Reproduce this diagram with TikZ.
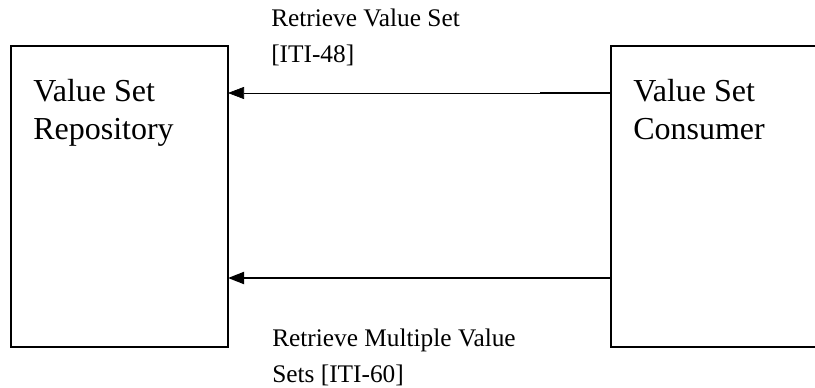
\documentclass[tikz,border=0pt]{standalone}
\usepackage{fontspec}
\setmainfont{Liberation Serif}
\usetikzlibrary{arrows.meta,positioning}

\begin{document}
\begin{tikzpicture}[x=0.75pt,y=-0.75pt,>={Triangle[length=12pt,width=9pt]},
  actor/.style={draw,line width=1.2pt,inner sep=0pt,outer sep=0pt,anchor=north west},
  actortext/.style={anchor=base west,align=left,inner sep=0pt,font=\fontsize{24}{28.5}\selectfont},
  msgtext/.style={anchor=base west,align=left,inner sep=0pt,font=\fontsize{19}{27}\selectfont}]
  \clip (0,0) rectangle (815,388);
  % actors
  \node[actor,minimum width=162.75pt,minimum height=225.75pt] (repo) at (11,46) {};
  \node[actor,minimum width=200pt,minimum height=225.75pt] (consumer) at (611,46) {};
  \node[actortext] (repotext) at (33,140) {Value Set\\Repository};
  \node[actortext] (consumertext) at (633,140) {Value Set\\Consumer};
  % transactions
  \coordinate (split) at (540,93);
  \draw[line width=1.4pt] (consumer.west |- split) -- (split);
  \draw[->,line width=0.5pt] (split) -- (repo.east |- split);
  \coordinate (lower) at (611,278);
  \draw[->,line width=1.4pt] (consumer.west |- lower) -- (repo.east |- lower);
  \node[msgtext] (lbltop) at (271,62.7) {Retrieve Value Set\\{}[ITI-48]};
  \node[msgtext] (lblbot) at (272,383) {Retrieve Multiple Value\\Sets [ITI-60]};
\end{tikzpicture}
\end{document}
